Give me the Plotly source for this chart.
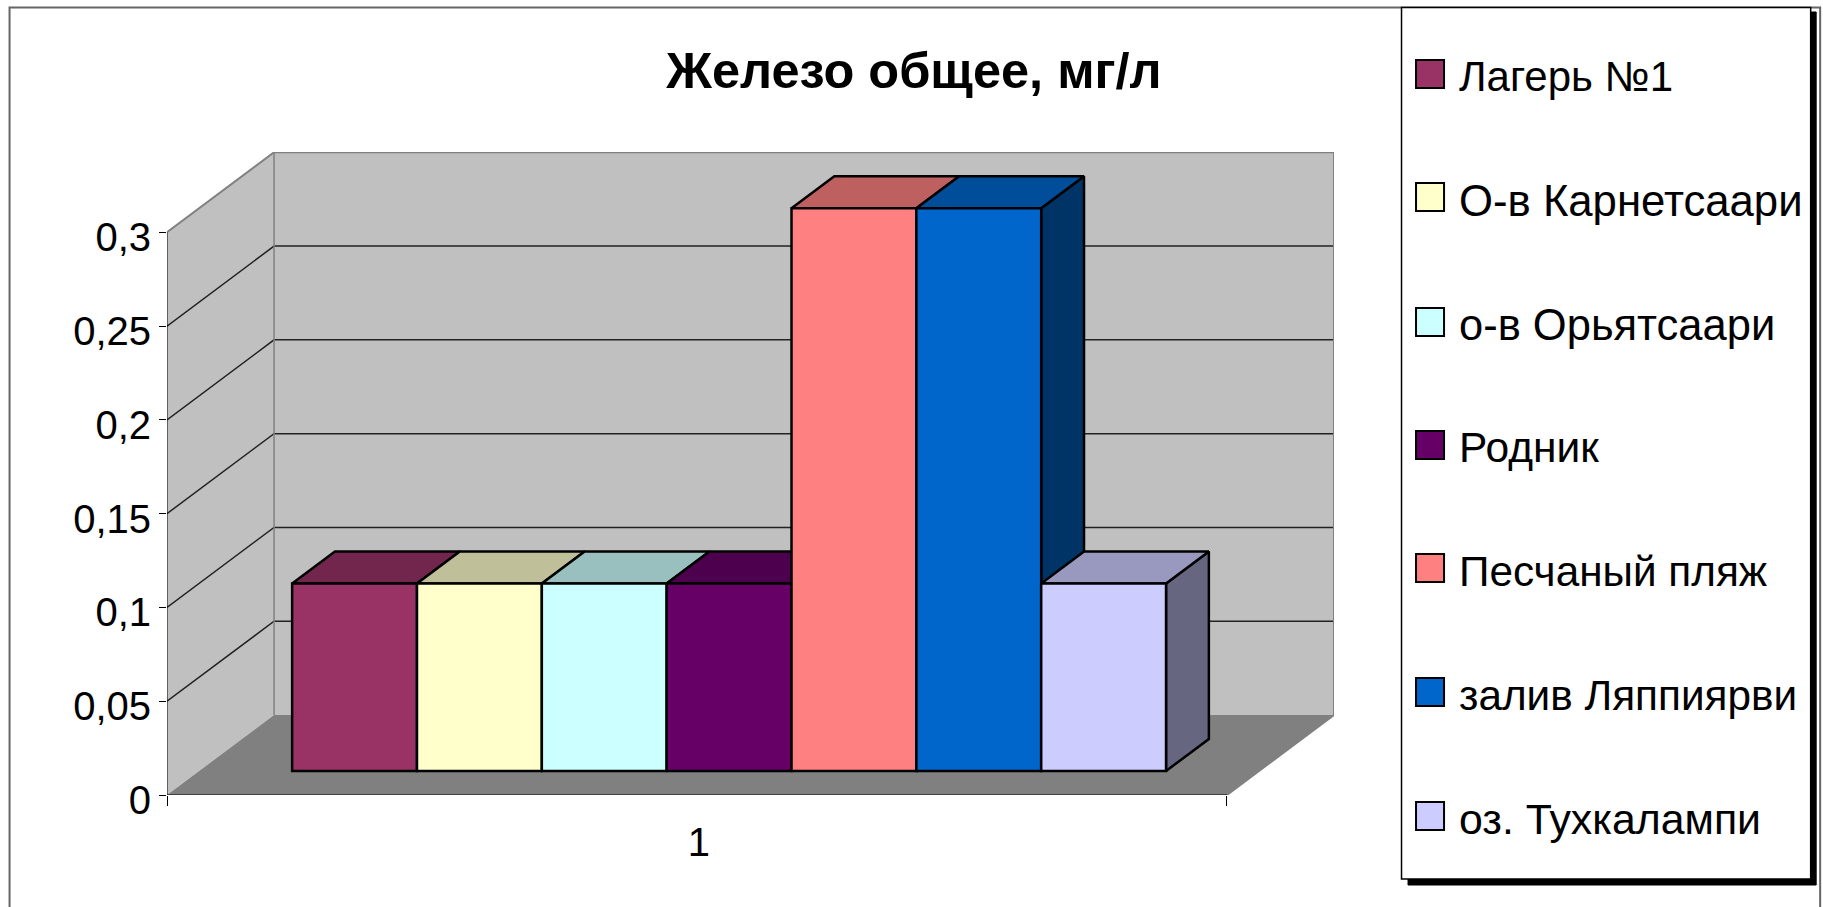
"""
Iron content chart with a hand-built 3D column look.
"""
import plotly.graph_objects as go

# Data
SERIES = ['Лагерь №1', 'О-в Карнетсаари', 'о-в Орьятсаари', 'Родник',
          'Песчаный пляж', 'залив Ляппиярви', 'оз. Тухкалампи']
VALUES = [0.1, 0.1, 0.1, 0.1, 0.3, 0.3, 0.1]
Y_TICKS = [0, 0.05, 0.1, 0.15, 0.2, 0.25, 0.3]
Y_LABELS = ['0', '0,05', '0,1', '0,15', '0,2', '0,25', '0,3']
CATEGORY = [1]
TITLE = 'Железо общее, мг/л'

# Colours
FRONT = ['#993366', '#FFFFCC', '#CCFFFF', '#660066', '#FF8080', '#0066CC', '#CCCCFF']
TOP = ['#73264D', '#BFBF99', '#99BFBF', '#4D004D', '#BF6060', '#004D99', '#9999BF']
SIDE = ['#4D1A33', '#808066', '#668080', '#330033', '#804040', '#003366', '#666680']
WALL_COLOR = '#C0C0C0'
FLOOR_COLOR = '#808080'
EDGE_COLOR = '#808080'
FONT = 'Liberation Sans'

# Layout, in pixels
WIDTH, HEIGHT = 1823, 907
PLOT_L, PLOT_R, PLOT_T, PLOT_B = 167.4, 1334, 152, 795
PX_PER_X = 1059.6       # one category
PX_PER_Y = 1875.7       # one mg/l
DEPTH_X = 107 / PX_PER_X
DEPTH_Y = 80 / PX_PER_Y
BAR_NEAR = 0.30         # bar front and back, as a share of the depth
BAR_FAR = 0.70
BAR_W = 124.8 / PX_PER_X
X_RANGE = [0.5, 0.5 + (PLOT_R - PLOT_L) / PX_PER_X]
Y_RANGE = [0, (PLOT_B - PLOT_T) / PX_PER_Y]
Y_TOP = Y_TICKS[-1]

LEGEND_Y = [74, 197, 322, 445, 568, 692, 816]
LEGEND_SIZE = [42, 43.7, 43.5, 42.5, 42.3, 42.3, 42.8]


def paper_x(px):
    return (px - PLOT_L) / (PLOT_R - PLOT_L)


def paper_y(py):
    return (PLOT_B - py) / (PLOT_B - PLOT_T)


def polygon(xs, ys, fill, line='rgba(0,0,0,0)', width=1):
    return go.Scatter(x=xs, y=ys, mode='lines', fill='toself', fillcolor=fill,
                      line=dict(color=line, width=width), hoverinfo='skip',
                      showlegend=False)


def segment(xs, ys, color='#000000', width=1):
    return go.Scatter(x=xs, y=ys, mode='lines', line=dict(color=color, width=width),
                      hoverinfo='skip', showlegend=False)


fig = go.Figure()

# Walls and floor
x0, x1 = 0.5, 1.5
fig.add_trace(polygon([x0, x0 + DEPTH_X, x0 + DEPTH_X, x0],
                      [0, DEPTH_Y, Y_TOP + DEPTH_Y, Y_TOP], WALL_COLOR))
fig.add_trace(polygon([x0 + DEPTH_X, x1 + DEPTH_X, x1 + DEPTH_X, x0 + DEPTH_X],
                      [DEPTH_Y, DEPTH_Y, Y_TOP + DEPTH_Y, Y_TOP + DEPTH_Y], WALL_COLOR))
fig.add_trace(polygon([x0, x1, x1 + DEPTH_X, x0 + DEPTH_X],
                      [0, 0, DEPTH_Y, DEPTH_Y], FLOOR_COLOR))

# Grid lines run along the side wall and the back wall
for tick in Y_TICKS[1:-1]:
    fig.add_trace(segment([x0, x0 + DEPTH_X, x1 + DEPTH_X],
                          [tick, tick + DEPTH_Y, tick + DEPTH_Y], '#222222', 1.5))

# Wall outlines
fig.add_trace(segment([x0, x0 + DEPTH_X, x1 + DEPTH_X, x1 + DEPTH_X, x1],
                      [Y_TOP, Y_TOP + DEPTH_Y, Y_TOP + DEPTH_Y, DEPTH_Y, 0], EDGE_COLOR, 2))
fig.add_trace(segment([x0 + DEPTH_X, x0 + DEPTH_X],
                      [DEPTH_Y, Y_TOP + DEPTH_Y], EDGE_COLOR, 1.5))
fig.add_trace(segment([x0, x0, x1], [Y_TOP, 0, 0], '#000000', 1))

# Tops and sides of the columns, painted left to right
start = x0 + (1 - len(SERIES) * BAR_W) / 2
near_dx, near_dy = DEPTH_X * BAR_NEAR, DEPTH_Y * BAR_NEAR
far_dx, far_dy = DEPTH_X * BAR_FAR, DEPTH_Y * BAR_FAR
for i, value in enumerate(VALUES):
    left = start + i * BAR_W + near_dx
    right = left + BAR_W
    top = value + near_dy
    step_x, step_y = far_dx - near_dx, far_dy - near_dy
    fig.add_trace(polygon([right, right + step_x, right + step_x, right, right],
                          [near_dy, near_dy + step_y, top + step_y, top, near_dy],
                          SIDE[i], '#000000', 2.5))
    fig.add_trace(polygon([left, right, right + step_x, left + step_x, left],
                          [top, top, top + step_y, top + step_y, top],
                          TOP[i], '#000000', 2.5))

# Column fronts sit on an overlay axis so they paint above the scatter faces
for i, (name, value) in enumerate(zip(SERIES, VALUES)):
    fig.add_trace(go.Bar(x=CATEGORY, y=[value], base=near_dy, name=name,
                         width=BAR_W, offset=start + i * BAR_W + near_dx - CATEGORY[0],
                         marker=dict(color=FRONT[i], line=dict(color='#000000', width=2.5)),
                         xaxis='x2', yaxis='y2', showlegend=False))

shapes = []


def pixel_rect(l, t, r, b, fill='rgba(0,0,0,0)', line='#000000', width=1):
    shapes.append(dict(type='rect', xref='paper', yref='paper',
                       x0=paper_x(l), x1=paper_x(r), y0=paper_y(t), y1=paper_y(b),
                       fillcolor=fill, line=dict(color=line, width=width)))


# Outer frame (its bottom edge falls off the page), then legend box and shadow
pixel_rect(10, 7.5, 1820, 920, line='#666666', width=2)
pixel_rect(1408, 12, 1816, 885, fill='#000000', line='#000000')
pixel_rect(1401.5, 7.5, 1810.5, 879, fill='#FFFFFF', line='#000000', width=1.5)

annotations = []
for i, name in enumerate(SERIES):
    pixel_rect(1416, LEGEND_Y[i] - 14, 1444, LEGEND_Y[i] + 14, fill=FRONT[i], width=2)
    annotations.append(dict(text=name, xref='paper', yref='paper', showarrow=False,
                            x=paper_x(1457), y=paper_y(LEGEND_Y[i] + 3),
                            xanchor='left', yanchor='middle',
                            font=dict(family=FONT, size=LEGEND_SIZE[i], color='#000000')))

fig.update_layout(
    width=WIDTH,
    height=HEIGHT,
    margin=dict(l=PLOT_L, r=WIDTH - PLOT_R, t=PLOT_T, b=HEIGHT - PLOT_B, pad=0),
    paper_bgcolor='#FFFFFF',
    plot_bgcolor='rgba(0,0,0,0)',
    showlegend=False,
    barmode='overlay',
    title=dict(text=f'<b>{TITLE}</b>', x=914 / WIDTH, xanchor='center',
               y=1 - 70 / HEIGHT, yanchor='middle',
               font=dict(family=FONT, size=50.5, color='#000000')),
    xaxis=dict(range=X_RANGE, tickmode='array', tickvals=[x0, x1], ticktext=['', ''],
               ticks='outside', ticklen=10, tickcolor='#000000', showgrid=False,
               zeroline=False, showline=False),
    yaxis=dict(range=Y_RANGE, tickmode='array', tickvals=Y_TICKS, ticktext=Y_LABELS,
               ticks='outside', ticklen=7, tickcolor='#000000', showgrid=False,
               zeroline=False, showline=False, ticklabelshift=5,
               tickfont=dict(family=FONT, size=40, color='#000000')),
    xaxis2=dict(range=X_RANGE, overlaying='x', anchor='y2', side='bottom',
                tickmode='array', tickvals=CATEGORY, ticktext=[str(c) for c in CATEGORY],
                ticks='', showgrid=False, zeroline=False, showline=False,
                ticklabelstandoff=20, ticklabelshift=2,
                tickfont=dict(family=FONT, size=40, color='#000000')),
    yaxis2=dict(range=Y_RANGE, overlaying='y', anchor='x2', visible=False),
    shapes=shapes,
    annotations=annotations,
)

fig.write_html("out.html", config={'displayModeBar': False},
               post_script="document.body.style.margin='0';")
